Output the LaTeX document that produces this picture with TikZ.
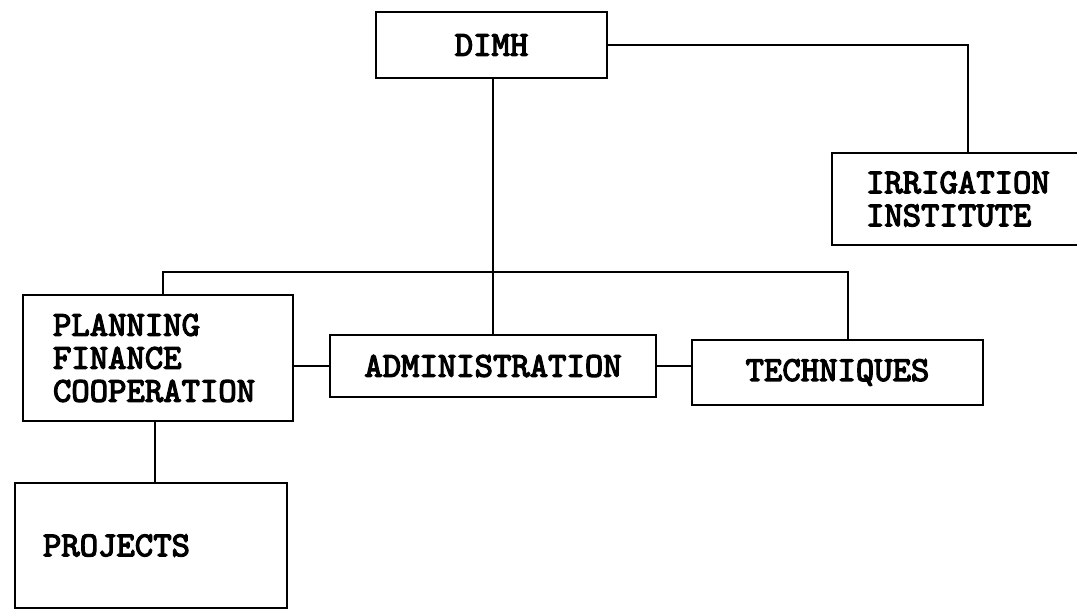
\documentclass[tikz,border=0pt]{standalone}
\usepackage{fontspec}
\newfontfamily\boxfont{lmmono10-regular.otf}[FakeBold=3.5]
\usetikzlibrary{calc}
\begin{document}
\begin{tikzpicture}[x=1pt,y=-1pt,
  box/.style={draw,line width=2.4pt,rectangle,inner sep=0pt,
    font=\fontsize{35}{33}\selectfont\boxfont},
  link/.style={line width=2.4pt}]
\useasboundingbox (0,0) rectangle (1077,610);
\clip (0,0) rectangle (1077,610);
\node[box,minimum width=231pt,minimum height=66pt] (dimh) at (491.5,45) {DIMH};
\node[box,minimum width=258pt,minimum height=92pt,text width=190pt,align=left,inner xsep=34pt] (irr) at (961,199) {IRRIGATION\\INSTITUTE};
\node[box,minimum width=270pt,minimum height=126pt,text width=210pt,align=left,inner xsep=30pt] (plan) at (158,358) {PLANNING\\FINANCE\\COOPERATION};
\node[box,minimum width=326pt,minimum height=62pt] (admin) at (493,366) {ADMINISTRATION};
\node[box,minimum width=291pt,minimum height=65pt] (tech) at (837.5,372.5) {TECHNIQUES};
\node[box,minimum width=272pt,minimum height=125pt,text width=216pt,align=left,inner xsep=28pt] (proj) at (151,545.5) {PROJECTS};
\coordinate (pl) at (163,0);
\coordinate (tc) at (848,0);
\coordinate (bar) at (0,272);
\coordinate (ic) at (968,0);
\coordinate (pp) at (155,0);
\draw[link] (admin.north |- dimh.south) -- (admin.north);
\draw[link] (plan.north -| pl) |- (bar -| tc) -- (tech.north -| tc);
\draw[link] (admin.west -| plan.east) -- (admin.west);
\draw[link] (admin.east) -- (admin.east -| tech.west);
\draw[link] (plan.south -| pp) -- (proj.north -| pp);
\draw[link] (dimh.east) -| (irr.north -| ic);
\end{tikzpicture}
\end{document}
